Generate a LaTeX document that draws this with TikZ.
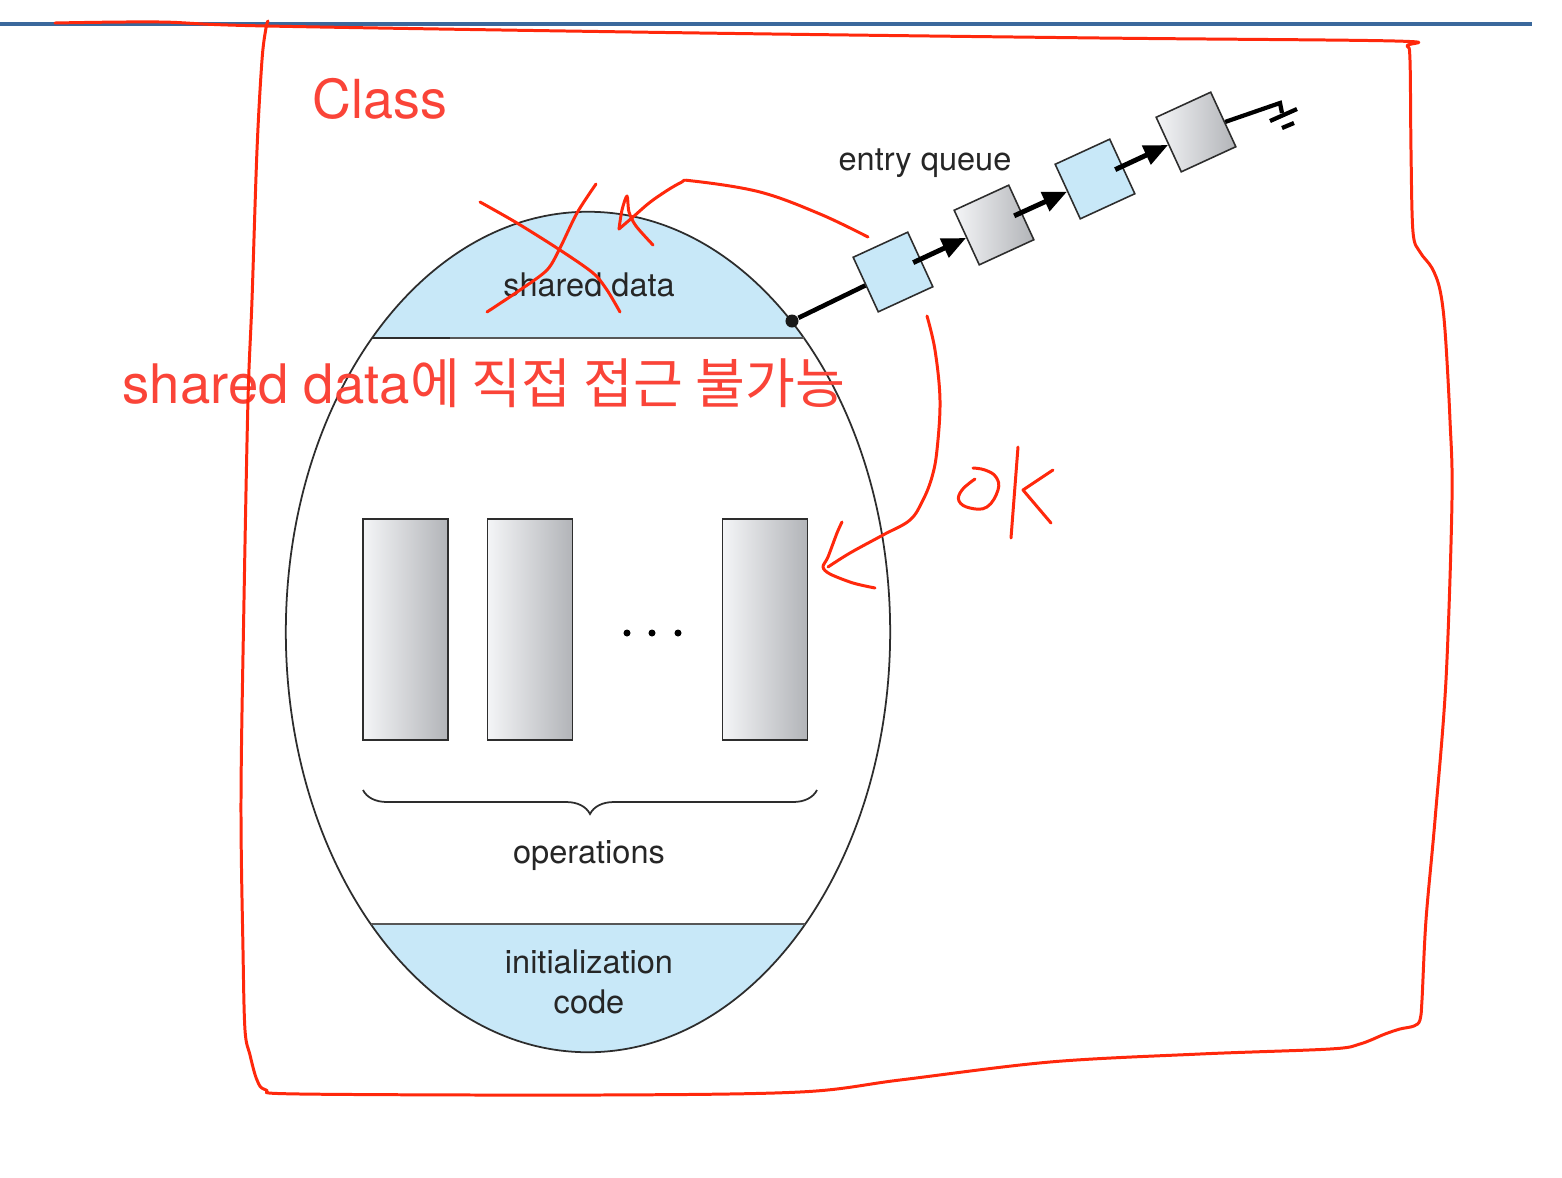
\documentclass[tikz,border=0pt]{standalone}
\usepackage{fontspec}
\setmainfont{TeX Gyre Heros}
\newfontfamily\cjk{Noto Sans CJK KR}
\usetikzlibrary{shapes.geometric,arrows.meta,calc,decorations.pathreplacing}
\pgfdeclarelayer{bg}
\pgfsetlayers{bg,main}
\definecolor{bandblue}{RGB}{200,232,248}
\definecolor{rulecol}{RGB}{58,104,156}
\definecolor{penred}{RGB}{255,40,12}
\definecolor{inkred}{RGB}{250,68,56}
\definecolor{outline}{RGB}{45,45,45}
\definecolor{boxlight}{RGB}{244,245,247}
\definecolor{boxdark}{RGB}{178,180,184}
\tikzset{
  txt/.style={font=\fontsize{9.25}{11}\selectfont, text=black!85, inner sep=0pt},
  opbox/.style={draw=outline, line width=0.4pt, left color=boxlight, right color=boxdark,
    minimum width=0.85cm, minimum height=2.21cm, inner sep=0pt},
  qbox/.style={draw=outline, line width=0.45pt, minimum size=0.6cm, inner sep=0pt, rotate=24.7},
  qblue/.style={qbox, fill=bandblue},
  qgray/.style={qbox, left color=boxlight, right color=boxdark},
  qarrow/.style={line width=1.4pt, -{Triangle[length=0.24cm, width=0.2cm]}},
  pen/.style={draw=penred, line width=0.85pt, line cap=round, line join=round},
}

\begin{document}
\begin{tikzpicture}[x=0.01cm, y=-0.01cm]
        \useasboundingbox (0,0) rectangle (1562,1178);
        \begin{pgfonlayer}{bg}
                \fill[white] (0,0) rectangle (1562,1178);
                \begin{scope}
                        \clip (588,632) ellipse [x radius=302, y radius=420];
                        \fill[bandblue] (280,200) rectangle (900,338);
                        \fill[bandblue] (280,924) rectangle (900,1060);
                \end{scope}
        \end{pgfonlayer}
        \draw[rulecol, line width=1.1pt] (0,24) -- (1532,24);

        \node (cls) [ellipse, draw=outline, line width=0.5pt, minimum width=6.04cm, minimum height=8.4cm, inner sep=0pt] at (588,632) {};
        \draw[outline!80, line width=0.4pt] (372,338) -- (804,338);
        \draw[outline, line width=0.8pt] (372,338) -- (450,338);
        \draw[outline!80, line width=0.4pt] (371,924) -- (805,924);

        \node (sd) [txt, anchor=base] at (589,296) {shared data};
        \node (op1) [opbox] at (405.5,629.5) {};
        \node (op2) [opbox] at (530,629.5) {};
        \node (op3) [opbox] at (765,629.5) {};
        \foreach \i/\x in {1/627,2/652,3/678}
                \node (d\i) [circle, fill=black, inner sep=0pt, minimum size=0.07cm] at (\x,633) {};
        \coordinate (br1) at (363,790);
        \coordinate (br2) at (817,790);
        \draw[outline, line width=0.5pt, decorate, decoration={brace, amplitude=0.24cm}] (br2) -- (br1);
        \node (ops) [txt, anchor=base] at (589,863) {operations};
        \node (init) [txt, anchor=base] at (589,973) {initialization};
        \node (code) [txt, anchor=base] at (589,1013) {code};

        \node (dot) [circle, fill=black!90, inner sep=0pt, minimum size=0.13cm] at (792,321) {};
        \node (q1) [qblue] at (893,272) {};
        \node (q2) [qgray] at (994,225) {};
        \node (q3) [qblue] at (1095,179) {};
        \node (q4) [qgray] at (1196,132) {};
        \coordinate (gnd) at (1280,103);
        \draw[line width=1.3pt] (dot) -- (q1);
        \foreach \a/\b in {q1/q2,q2/q3,q3/q4}
                \draw[qarrow] ($(\a)!0.2!(\b)$) -- (\b);
        \draw[line width=1.2pt] (q4) -- (gnd) -- ++(2,10);
        \draw[line width=1.2pt] (1270,121) -- (1297,109) (1282,128) -- (1294,123);
        \node (eq) [txt, anchor=base] at (925,170) {entry queue};

        \node (cl) [text=inkred, anchor=base west, inner sep=0pt, font=\fontsize{15.3}{18}\selectfont] at (312,118) {Class};
        \node (note) [text=inkred, anchor=base west, inner sep=0pt] at (122,403)
                {\fontsize{15.5}{18}\selectfont shared data\cjk\fontsize{15.4}{18}\selectfont 에 직접 접근 불가능};

        \draw[pen] plot[smooth, tension=0.55] coordinates {(55,23) (160,22) (267,26) (700,33) (1100,38) (1395,41)
                (1407,46) (1410,60) (1411,150) (1413,232) (1420,252) (1432,268) (1440,290) (1445,330) (1450,420)
                (1452,500) (1446,680) (1435,820) (1426,920) (1422,1000) (1420,1020) (1414,1026) (1400,1029)
                (1385,1034) (1360,1044) (1330,1049) (1200,1054) (1050,1062) (900,1080) (800,1092) (600,1095)
                (300,1094) (266,1090) (257,1080) (250,1055) (245,1030) (243,950) (241,800) (244,600) (248,400)
                (252,300) (257,150) (262,60) (266,28) (268,21)};
        \draw[pen] plot[smooth] coordinates {(480,202) (517,223) (560,250) (593,273) (607,290) (620,312)};
        \draw[pen] plot[smooth] coordinates {(596,184) (577,213) (560,248) (547,270) (520,290) (487,312)};
        \draw[pen] plot[smooth, tension=0.6] coordinates {(868,237) (820,214) (760,192) (693,181) (680,183)
                (653,200) (633,217) (619,229)};
        \draw[pen] plot[smooth, tension=0.5] coordinates {(619,229) (622,210) (627,196) (629,212) (636,226) (653,245)};
        \draw[pen] plot[smooth, tension=0.6] coordinates {(927,316) (935,350) (940,400) (937,450) (932,477)
                (923,500) (910,520) (883,535) (850,553) (828,567)};
        \draw[pen] plot[smooth, tension=0.5] coordinates {(842,522) (837,533) (828,557) (823,567) (830,574)
                (853,583) (875,588)};
        \draw[pen] plot[smooth, tension=0.7] coordinates {(975,479) (962,490) (959,501) (970,508) (987,507)
                (998,490) (996,477) (985,470) (973,468)};
        \draw[pen] (1018,447) -- (1011,538);
        \draw[pen] (1053,470) -- (1023,490) -- (1051,523);
\end{tikzpicture}
\end{document}
